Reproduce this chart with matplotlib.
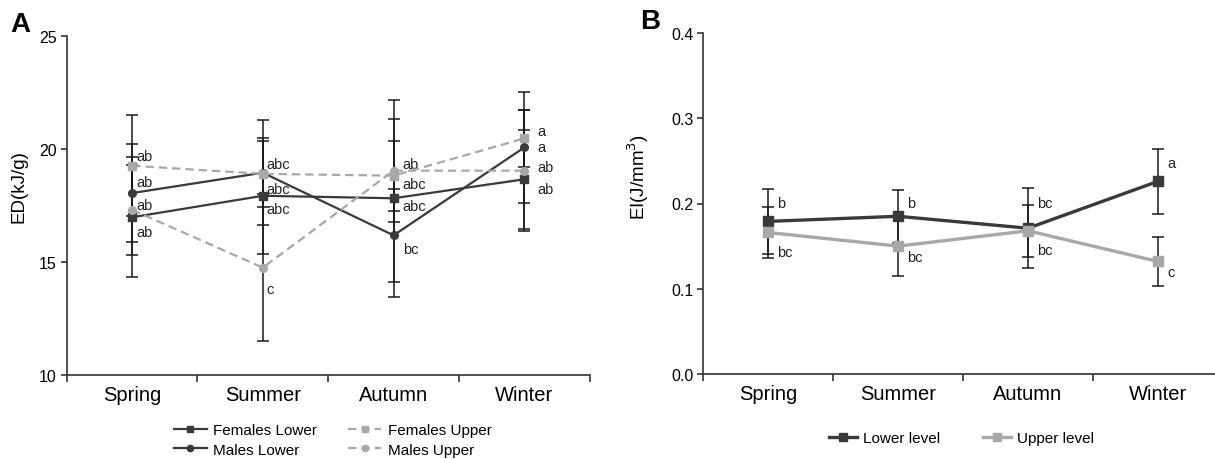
"""
ED / EI seasonal plot - two panels (A: energy density, B: energy index)
"""

import numpy as np
import matplotlib
matplotlib.use("Agg")
import matplotlib.pyplot as plt
from matplotlib.lines import Line2D

plt.rcParams['font.family'] = ['Liberation Sans', 'DejaVu Sans']

# =====================================================
# DATA
# =====================================================
seasons = ['Spring', 'Summer', 'Autumn', 'Winter']

# Panel A - ED (kJ/g)
females_lower = [16.98, 17.93, 17.82, 18.66]
females_lower_err = [2.65, 2.57, 4.37, 2.20]
males_lower = [18.05, 18.95, 16.18, 20.07]
males_lower_err = [2.15, 2.33, 2.07, 2.45]
females_upper = [19.26, 18.90, 18.82, 20.47]
females_upper_err = [2.24, 1.47, 1.55, 1.27]
males_upper = [17.31, 14.75, 19.04, 19.04]
males_upper_err = [1.99, 3.26, 2.27, 2.68]

# significance letters, panel A (one list per season, top to bottom)
letters_a = [['ab', 'ab', 'ab', 'ab'],
             ['abc', 'abc', 'abc', 'c'],
             ['ab', 'abc', 'abc', 'bc'],
             ['a', 'a', 'ab', 'ab']]
letters_a_y = [[19.71, 18.55, 17.52, 16.34],
               [19.35, 18.21, 17.33, 13.79],
               [19.32, 18.43, 17.46, 15.56],
               [20.80, 20.09, 19.20, 18.24]]
letters_a_dx = [0.03, 0.03, 0.07, 0.10]

# Panel B - EI (J/mm3)
lower_level = [0.179, 0.185, 0.171, 0.226]
lower_level_err = [0.038, 0.031, 0.047, 0.038]
upper_level = [0.166, 0.150, 0.168, 0.132]
upper_level_err = [0.030, 0.0355, 0.0305, 0.029]

letters_lower = ['b', 'b', 'bc', 'a']
letters_lower_y = [0.2008, 0.2008, 0.2008, 0.2477]
letters_upper = ['bc', 'bc', 'bc', 'c']
letters_upper_y = [0.1436, 0.137, 0.146, 0.1194]

# =====================================================
# STYLE
# =====================================================
DARK = '#3a3a3a'
GREY = '#a8a8a8'
AXIS = '#333333'
x = np.arange(len(seasons))

fig = plt.figure(figsize=(12.15, 4.6), dpi=100)
axA = fig.add_axes([66.7 / 1215, 1 - 376 / 460, 523 / 1215, 339 / 460])
axB = fig.add_axes([703 / 1215, 1 - 375 / 460, 520 / 1215, 341 / 460])


def style_axes(ax):
    for s in ['top', 'right']:
        ax.spines[s].set_visible(False)
    for s in ['left', 'bottom']:
        ax.spines[s].set_color(AXIS)
        ax.spines[s].set_linewidth(1.2)
    ax.set_xlim(-0.5, len(seasons) - 0.5)
    # boundary ticks, no labels
    ax.set_xticks(np.arange(-0.5, len(seasons), 1.0))
    ax.set_xticklabels([])
    ax.tick_params(axis='x', which='major', direction='out', length=5,
                   width=1.2, color=AXIS)
    # category labels as minor ticks
    ax.set_xticks(x, minor=True)
    ax.set_xticklabels(seasons, minor=True, fontsize=14.5)
    ax.tick_params(axis='x', which='minor', length=0, pad=7)
    ax.tick_params(axis='y', direction='out', length=4, width=1.2,
                   color=AXIS, labelsize=11.5, pad=3)


def draw_series(ax, y, yerr, color, marker, ls, lw, ms):
    ax.errorbar(x, y, yerr=yerr, color=color, marker=marker, markersize=ms,
                linestyle=ls, linewidth=lw, ecolor='#1a1a1a', elinewidth=1.1,
                capsize=4, capthick=1.1, markeredgecolor=color, zorder=3)


# =====================================================
# PANEL A
# =====================================================
dash = (0, (3.8, 2.2))
draw_series(axA, females_lower, females_lower_err, DARK, 's', '-', 1.6, 6)
draw_series(axA, males_lower, males_lower_err, DARK, 'o', '-', 1.6, 5.5)
draw_series(axA, females_upper, females_upper_err, GREY, 's', dash, 1.6, 6)
draw_series(axA, males_upper, males_upper_err, GREY, 'o', dash, 1.6, 5.5)

for i in range(len(seasons)):
    for lab, yy in zip(letters_a[i], letters_a_y[i]):
        axA.text(i + letters_a_dx[i], yy, lab, fontsize=10.5, color='#222222',
                 ha='left', va='center')

style_axes(axA)
axA.set_ylim(10, 25)
axA.set_yticks([10, 15, 20, 25])
axA.set_ylabel('ED(kJ/g)', fontsize=13.5)
axA.yaxis.set_label_coords(-0.075, 0.56)

handles_a = [
    Line2D([], [], color=DARK, marker='s', ms=5, lw=1.6, label='Females Lower'),
    Line2D([], [], color=DARK, marker='o', ms=4.5, lw=1.6, label='Males Lower'),
    Line2D([], [], color=GREY, marker='s', ms=5, lw=1.6, ls=dash, label='Females Upper'),
    Line2D([], [], color=GREY, marker='o', ms=4.5, lw=1.6, ls=dash, label='Males Upper'),
]
fig.legend(handles=handles_a, loc='center', bbox_to_anchor=(0.2737, 0.041),
           ncol=2, frameon=False, fontsize=11, handlelength=2.2,
           columnspacing=2.0, labelspacing=0.35, handletextpad=0.4)

# =====================================================
# PANEL B
# =====================================================
draw_series(axB, lower_level, lower_level_err, DARK, 's', '-', 2.4, 6.5)
draw_series(axB, upper_level, upper_level_err, GREY, 's', '-', 2.4, 6.5)

for i in range(len(seasons)):
    axB.text(i + 0.07, letters_lower_y[i], letters_lower[i], fontsize=10.5,
             color='#222222', ha='left', va='center')
    axB.text(i + 0.07, letters_upper_y[i], letters_upper[i], fontsize=10.5,
             color='#222222', ha='left', va='center')

style_axes(axB)
axB.set_ylim(0, 0.4)
axB.set_yticks([0.0, 0.1, 0.2, 0.3, 0.4])
axB.set_yticklabels([f'{v:.1f}' for v in [0.0, 0.1, 0.2, 0.3, 0.4]])
axB.set_ylabel('EI(J/mm$^3$)', fontsize=13.5)
axB.yaxis.set_label_coords(-0.1, 0.58)

handles_b = [
    Line2D([], [], color=DARK, marker='s', ms=5.5, lw=2.4, label='Lower level'),
    Line2D([], [], color=GREY, marker='s', ms=5.5, lw=2.4, label='Upper level'),
]
fig.legend(handles=handles_b, loc='center', bbox_to_anchor=(0.7914, 0.0457),
           ncol=2, frameon=False, fontsize=11, handlelength=1.8,
           columnspacing=2.8, handletextpad=0.4)

# panel letters
fig.text(10 / 1215, 1 - 25 / 460, 'A', fontsize=20, fontweight='bold', va='center')
fig.text(640 / 1215, 1 - 22 / 460, 'B', fontsize=20, fontweight='bold', va='center')

fig.savefig('out.png', dpi=100, facecolor='white')
print("saved out.png")
